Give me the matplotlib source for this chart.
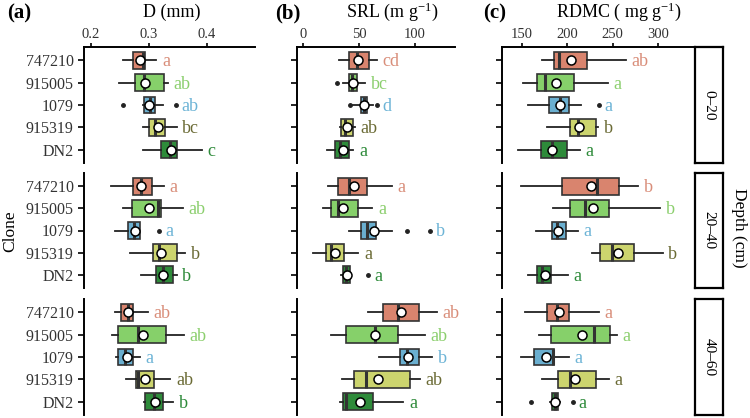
import numpy as np
import matplotlib
matplotlib.use("Agg")
from matplotlib import pyplot as plt

plt.rcParams['font.family'] = ['Liberation Serif', 'DejaVu Serif']
plt.rcParams['mathtext.fontset'] = 'custom'
plt.rcParams['mathtext.rm'] = 'Liberation Serif'
plt.rcParams['mathtext.it'] = 'Liberation Serif:italic'

clones = ["747210", "915005", "1079", "915319", "DN2"]
depths = ["0\u201320", "20\u201340", "40\u201360"]
box_colors = ["#D9846E", "#86D06A", "#6AAFD0", "#CCD46E", "#2E8B3A"]
letter_colors = ["#D98E7A", "#8CCF6E", "#6DB4D6", "#6B6B35", "#2E8B3A"]

# ---- D (mm), rows = depth, cols = clone
D_lo = [[0.255, 0.249, 0.290, 0.290, 0.290],
        [0.234, 0.255, 0.241, 0.267, 0.287],
        [0.241, 0.237, 0.244, 0.260, 0.291]]
D_q1 = [[0.272, 0.276, 0.291, 0.300, 0.320],
        [0.272, 0.270, 0.264, 0.307, 0.313],
        [0.251, 0.247, 0.247, 0.278, 0.294]]
D_med = [[0.289, 0.291, 0.302, 0.310, 0.336],
         [0.287, 0.316, 0.274, 0.318, 0.325],
         [0.264, 0.282, 0.259, 0.282, 0.309]]
D_q3 = [[0.294, 0.326, 0.310, 0.328, 0.349],
        [0.306, 0.321, 0.284, 0.348, 0.341],
        [0.273, 0.329, 0.272, 0.309, 0.325]]
D_hi = [[0.313, 0.333, 0.325, 0.348, 0.391],
        [0.326, 0.358, 0.285, 0.363, 0.348],
        [0.298, 0.360, 0.284, 0.337, 0.342]]
D_mean = [[0.285, 0.294, 0.300, 0.316, 0.338],
          [0.286, 0.300, 0.276, 0.321, 0.324],
          [0.264, 0.290, 0.262, 0.293, 0.310]]
D_out = [[[], [], [0.256, 0.347], [], []],
         [[], [], [0.318], [], []],
         [[], [], [], [], []]]
D_let = [["a", "ab", "ab", "bc", "c"],
         ["a", "ab", "a", "b", "b"],
         ["ab", "ab", "a", "ab", "b"]]

# ---- SRL (m g-1)
S_lo = [[32.4, 35.4, 44.9, 33.0, 21.7],
        [22.6, 17.6, 41.1, 8.6, 34.0],
        [58.3, 25.0, 67.9, 34.5, 33.0]]
S_q1 = [[41.1, 41.1, 51.5, 33.9, 28.6],
        [31.0, 25.0, 51.5, 20.5, 35.4],
        [71.7, 38.1, 86.6, 45.8, 35.4]]
S_med = [[48.5, 44.0, 54.5, 37.5, 33.0],
         [41.1, 31.5, 56.8, 25.0, 38.4],
         [84.5, 64.3, 92.6, 56.0, 38.1]]
S_q3 = [[58.9, 48.5, 57.4, 44.4, 41.1],
        [57.4, 49.4, 64.9, 36.9, 42.0],
        [103.8, 84.5, 103.8, 95.5, 62.8]]
S_hi = [[65.8, 55.4, 62.8, 46.4, 44.9],
        [79.2, 61.9, 79.2, 49.4, 43.0],
        [119.4, 108.9, 115.5, 104.5, 89.6]]
S_mean = [[49.4, 44.4, 54.5, 39.6, 35.4],
          [45.5, 35.4, 63.7, 28.6, 39.6],
          [87.2, 64.3, 93.5, 67.2, 50.9]]
S_out = [[[], [30.1], [42.0, 65.8], [], []],
         [[], [], [93.2, 113.4], [], [58.3]],
         [[], [], [], [], []]]
S_let = [["cd", "bc", "d", "ab", "a"],
         ["a", "a", "b", "a", "a"],
         ["ab", "ab", "b", "ab", "a"]]

# ---- RDMC ( mg g-1)
R_lo = [[171.7, 150.7, 157.0, 177.9, 145.9],
        [148.6, 183.8, 165.4, 226.9, 157.0],
        [153.3, 168.7, 148.9, 172.4, 181.0]]
R_q1 = [[185.7, 166.2, 180.1, 202.9, 170.6],
        [194.4, 202.9, 182.8, 236.0, 166.9],
        [177.9, 181.6, 163.2, 190.0, 182.8]]
R_med = [[191.2, 175.4, 191.9, 212.1, 183.4],
         [233.0, 219.5, 188.3, 248.9, 172.4],
         [189.0, 229.7, 183.8, 202.9, 186.7]]
R_q3 = [[221.4, 207.3, 202.2, 231.6, 199.3],
        [257.3, 246.3, 198.2, 273.5, 182.0],
        [202.2, 247.1, 185.6, 231.6, 190.0]]
R_hi = [[264.7, 245.2, 215.1, 234.2, 214.0],
        [278.3, 302.2, 212.1, 305.2, 201.0],
        [234.9, 255.1, 201.8, 246.3, 192.0]]
R_mean = [[204.0, 187.5, 191.9, 213.2, 183.4],
          [226.1, 228.0, 190.0, 255.5, 175.4],
          [191.2, 216.5, 176.1, 208.5, 186.4]]
R_out = [[[], [], [234.9], [], []],
         [[], [], [], [], []],
         [[], [], [], [], [160.0, 206.6]]]
R_let = [["ab", "a", "a", "b", "a"],
         ["b", "b", "a", "b", "a"],
         ["a", "a", "a", "a", "a"]]

traits = [
    (D_lo, D_q1, D_med, D_q3, D_hi, D_mean, D_out, D_let),
    (S_lo, S_q1, S_med, S_q3, S_hi, S_mean, S_out, S_let),
    (R_lo, R_q1, R_med, R_q3, R_hi, R_mean, R_out, R_let),
]
titles = ["D (mm)", r"SRL (m g$^{\mathrm{-1}}$)", r"RDMC ( mg g$^{\mathrm{-1}}$)"]
title_x = [171.7, 392, 619]
panel_tags = ["(a)", "(b)", "(c)"]
tag_x = [7, 275, 483]
xlims = [(0.188, 0.483), (-5.4, 135.7), (128, 340.8)]
xticks = [[0.2, 0.3, 0.4], [0, 50, 100], [150, 200, 250, 300]]

W, H = 750, 418
fig = plt.figure(figsize=(7.5, 4.18), dpi=100)

# pixel boxes of the panels
col_px = [(84, 255), (297, 455), (502, 695)]
row_px = [(47, 163), (173, 288), (299, 415)]

for c in range(3):
    lo, q1, med, q3, hi, mean, outl, let = traits[c]
    for r in range(3):
        x0, x1 = col_px[c]
        y0, y1 = row_px[r]
        ax = fig.add_axes([x0 / W, 1 - y1 / H, (x1 - x0) / W, (y1 - y0) / H])
        stats = []
        for k in range(5):
            stats.append(dict(med=med[r][k], q1=q1[r][k], q3=q3[r][k],
                              whislo=lo[r][k], whishi=hi[r][k],
                              mean=mean[r][k], fliers=outl[r][k]))
        bp = ax.bxp(stats, positions=range(1, 6), widths=0.75,
                    orientation='horizontal', patch_artist=True,
                    showmeans=True, showcaps=False,
                    boxprops=dict(edgecolor="#333333", linewidth=1.2),
                    medianprops=dict(color="#333333", linewidth=2.2),
                    whiskerprops=dict(color="#222222", linewidth=1.3),
                    meanprops=dict(marker="o", markerfacecolor="white",
                                   markeredgecolor="black", markersize=6.5,
                                   markeredgewidth=1.1),
                    flierprops=dict(marker="o", markerfacecolor="#222222",
                                    markeredgecolor="#222222", markersize=2.5))
        for k, patch in enumerate(bp['boxes']):
            patch.set_facecolor(box_colors[k])
            patch.set_zorder(2)
        for k in range(5):
            xr = max([hi[r][k]] + list(outl[r][k]))
            ax.annotate(let[r][k], (xr, k + 1), xytext=(4, -1),
                        textcoords='offset points', va='center', ha='left',
                        fontsize=13, color=letter_colors[k])
        ax.set_xlim(*xlims[c])
        ax.set_ylim(5.6, 0.4)
        ax.set_yticks(range(1, 6))
        if c == 0:
            ax.set_yticklabels(clones, fontsize=11.5, color="#333333")
        else:
            ax.set_yticklabels([])
        ax.tick_params(axis='y', length=4, width=1.2, color="black")
        for s in ["right", "bottom"]:
            ax.spines[s].set_visible(False)
        ax.spines["left"].set_linewidth(1.4)
        if r == 0:
            ax.xaxis.tick_top()
            ax.set_xticks(xticks[c])
            ax.set_xticklabels([str(t) for t in xticks[c]], fontsize=10.5,
                               color="#333333")
            ax.tick_params(axis='x', length=3, width=1.2, pad=1)
            ax.spines["top"].set_linewidth(1.4)
        else:
            ax.set_xticks([])
            ax.spines["top"].set_visible(False)
        ax.patch.set_alpha(0)

    fig.text(title_x[c] / W, 1 - 12 / H, titles[c], ha='center', va='center',
             fontsize=13)
    fig.text(tag_x[c] / W, 1 - 13 / H, panel_tags[c], ha='left', va='center',
             fontsize=15, fontweight='bold')

# depth strips on the right
for r in range(3):
    y0, y1 = row_px[r]
    sx = fig.add_axes([695 / W, 1 - y1 / H, 28 / W, (y1 - y0) / H])
    sx.set_xticks([])
    sx.set_yticks([])
    for s in sx.spines.values():
        s.set_linewidth(1.6)
    sx.text(0.5, 0.5, depths[r], rotation=-90, ha='center', va='center',
            fontsize=11, transform=sx.transAxes)

fig.text(739 / W, 1 - 228 / H, "Depth (cm)", rotation=-90, ha='center',
         va='center', fontsize=12.5)
fig.text(10 / W, 1 - 231 / H, "Clone", rotation=90, ha='center', va='center',
         fontsize=12.5)

fig.savefig("out.png", dpi=100)
